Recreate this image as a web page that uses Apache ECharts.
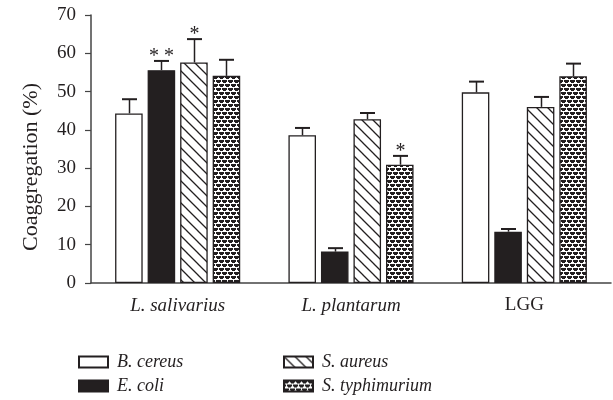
<!DOCTYPE html>
<html>
<head>
<meta charset="utf-8">
<script src="https://cdn.jsdelivr.net/npm/echarts@6/dist/echarts.min.js"></script>
<style>html,body{margin:0;padding:0;background:#fff}#c{width:613px;height:400px}</style>
</head>
<body>
<div id="c"></div>
<script>
const categories = ['L. salivarius', 'L. plantarum', 'LGG'];
const seriesNames = ['B. cereus', 'E. coli', 'S. aureus', 'S. typhimurium'];
const bCereus = [44.3, 38.6, 49.8];
const eColi = [55.6, 8.2, 13.4];
const sAureus = [57.6, 42.8, 46.0];
const sTyphimurium = [54.1, 30.9, 54.0];
const bCereusErr = [48.0, 40.5, 52.6];
const eColiErr = [58.0, 9.1, 14.1];
const sAureusErr = [63.7, 44.4, 48.6];
const sTyphimuriumErr = [58.3, 33.2, 57.3];
const eColiSig = ['* *', '', ''];
const sAureusSig = ['*', '', ''];
const sTyphimuriumSig = ['', '*', ''];
const bCereusSig = ['', '', ''];
const yTicks = [0, 10, 20, 30, 40, 50, 60, 70];

const values = [bCereus, eColi, sAureus, sTyphimurium];
const errs = [bCereusErr, eColiErr, sAureusErr, sTyphimuriumErr];
const sigs = [bCereusSig, eColiSig, sAureusSig, sTyphimuriumSig];

const FONT = '"Liberation Serif", "DejaVu Serif", serif';
const INK = '#231f20';
const AX = '#444';
const BAR_FRAC = 0.159;
const GAP = 0.18;

function hatchPattern() {
  const c = document.createElement('canvas');
  const s = 11;
  c.width = s; c.height = s;
  const g = c.getContext('2d');
  g.fillStyle = '#fff'; g.fillRect(0, 0, s, s);
  g.strokeStyle = INK; g.lineWidth = 1.3;
  g.beginPath();
  g.moveTo(-1, -1); g.lineTo(s + 1, s + 1);
  g.moveTo(-1 - s, -1); g.lineTo(1, s + 1);
  g.moveTo(s - 1, -1); g.lineTo(2 * s + 1, s + 1);
  g.stroke();
  return c;
}
function stipplePattern() {
  const c = document.createElement('canvas');
  c.width = 6; c.height = 8;
  const g = c.getContext('2d');
  g.fillStyle = '#fff'; g.fillRect(0, 0, 6, 8);
  g.fillStyle = INK;
  // first row of "hearts"
  g.fillRect(0, 0, 5, 2); g.fillRect(1, 2, 3, 1);
  // second row, offset by half a period
  g.fillRect(3, 4, 3, 2); g.fillRect(0, 4, 2, 2);
  g.fillRect(4, 6, 2, 1); g.fillRect(0, 6, 1, 1);
  return c;
}

const fills = [
  '#ffffff',
  INK,
  { image: hatchPattern(), repeat: 'repeat' },
  { image: stipplePattern(), repeat: 'repeat' }
];

const barSeries = seriesNames.map((name, k) => ({
  name: name,
  type: 'bar',
  data: values[k],
  barWidth: (BAR_FRAC * 100) + '%',
  barGap: (GAP * 100) + '%',
  itemStyle: { color: fills[k], borderColor: INK, borderWidth: 1.3 },
  emphasis: { disabled: true },
  z: 2
}));

const errSeries = seriesNames.map((name, k) => ({
  type: 'custom',
  name: name + ' err',
  data: categories.map((c, i) => [i, values[k][i], errs[k][i]]),
  encode: { x: 0, y: 2 },
  z: 3,
  silent: true,
  renderItem: function (params, api) {
    const ci = api.value(0);
    const base = api.coord([ci, api.value(1)]);
    const top = api.coord([ci, api.value(2)]);
    const band = api.size([1, 0])[0];
    const bw = band * BAR_FRAC;
    const step = bw * (1 + GAP);
    const x = Math.round(base[0] + (k - 1.5) * step) + 0.5;
    const capHalf = 7.5;
    const sig = sigs[k][params.dataIndex];
    const children = [
      { type: 'line', shape: { x1: x, y1: base[1], x2: x, y2: top[1] }, style: { stroke: INK, lineWidth: 1.5 } },
      { type: 'line', shape: { x1: x - capHalf, y1: top[1], x2: x + capHalf, y2: top[1] }, style: { stroke: INK, lineWidth: 2 } }
    ];
    if (sig) {
      children.push({ type: 'text', style: { x: x, y: top[1] + 6, text: sig, fill: INK, font: '20px ' + FONT, align: 'center', verticalAlign: 'bottom' } });
    }
    return { type: 'group', children: children };
  }
}));

function legendAt(name, left, top) {
  return {
    data: [name], left: left, top: top, icon: 'rect', padding: 0,
    itemWidth: 29, itemHeight: 11, selectedMode: false,
    textStyle: { color: INK, fontSize: 18, fontFamily: FONT, fontStyle: 'italic', padding: [0, 0, 0, 4] }
  };
}

const chart = echarts.init(document.getElementById('c'), null, { renderer: 'canvas' });
chart.setOption({
  animation: false,
  backgroundColor: '#fff',
  grid: { left: 91, right: 2, top: 15, bottom: 117, containLabel: false },
  xAxis: {
    type: 'category',
    data: categories,
    axisLine: { lineStyle: { color: AX, width: 1.5 } },
    axisTick: { alignWithLabel: true, length: 5, lineStyle: { color: AX, width: 1.2 } },
    axisLabel: {
      margin: 13, color: INK, fontSize: 19, fontFamily: FONT,
      formatter: function (v) { return v === 'LGG' ? '{n|' + v + '}' : '{i|' + v + '}'; },
      rich: {
        i: { fontStyle: 'italic', fontSize: 19, fontFamily: FONT, color: INK },
        n: { fontStyle: 'normal', fontSize: 19, fontFamily: FONT, color: INK }
      }
    }
  },
  yAxis: {
    type: 'value',
    min: 0, max: 70, interval: 10,
    name: 'Coaggregation (%)',
    nameLocation: 'middle',
    nameGap: 49,
    nameTextStyle: { color: INK, fontSize: 22, fontFamily: FONT, padding: [0, 36, 0, 0] },
    axisLine: { show: true, lineStyle: { color: AX, width: 1.5 } },
    axisTick: { show: true, length: 6, lineStyle: { color: AX, width: 1.2 } },
    splitLine: { show: false },
    axisLabel: {
      margin: 15, color: INK, fontSize: 19, fontFamily: FONT,
      formatter: function (v) { return yTicks.indexOf(v) >= 0 ? String(v) : ''; }
    }
  },
  legend: [
    legendAt(seriesNames[0], 78, 353),
    legendAt(seriesNames[1], 78, 377),
    legendAt(seriesNames[2], 283, 353),
    legendAt(seriesNames[3], 283, 377)
  ],
  series: barSeries.concat(errSeries)
});
</script>
</body>
</html>
